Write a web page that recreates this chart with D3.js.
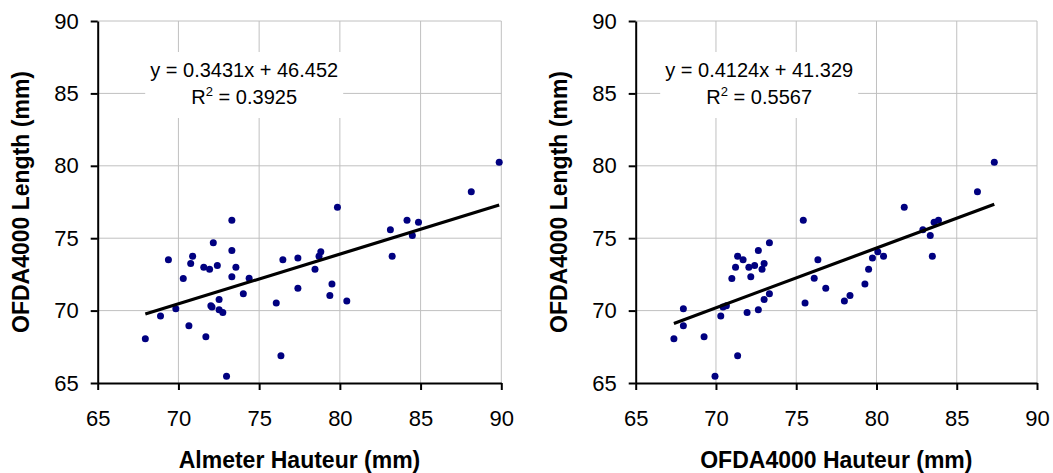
<!DOCTYPE html>
<html>
<head>
<meta charset="utf-8">
<script src="https://cdn.jsdelivr.net/npm/d3@7"></script>
<style>
  html, body { margin: 0; padding: 0; background: #fff; }
  svg text { font-family: "Liberation Sans", Arial, sans-serif; fill: #000; }
</style>
</head>
<body>
<svg id="chart" width="1053" height="473"></svg>
<script>
// left panel: Almeter hauteur vs OFDA4000 length
var almeterX = [67.95, 68.89, 69.38, 69.84, 70.30, 70.65, 70.76, 70.88, 71.57, 71.70, 71.93,
  72.01, 72.08, 72.16, 72.41, 72.52, 72.52, 72.75, 72.98, 73.31, 73.31, 73.56, 74.02, 74.38,
  76.06, 76.35, 76.47, 77.40, 77.40, 78.46, 78.71, 78.82, 79.38, 79.51, 80.43, 83.24, 84.49,
  83.13, 84.16, 84.87, 88.14, 89.87, 79.85, 73.31];
var almeterY = [68.06, 69.62, 73.51, 70.13, 72.22, 68.95, 73.25, 73.76, 73.00, 68.20, 72.86,
  70.33, 70.24, 74.68, 73.11, 70.77, 70.06, 69.87, 65.46, 74.15, 72.33, 73.00, 71.16, 72.24,
  70.52, 66.89, 73.51, 73.64, 71.55, 72.86, 73.76, 74.06, 71.05, 71.83, 70.66, 73.76, 75.18,
  75.59, 76.24, 76.10, 78.20, 80.25, 77.14, 76.24];

// right panel: OFDA4000 hauteur vs OFDA4000 length
var ofdaX = [67.38, 67.97, 67.97, 69.26, 69.94, 70.30, 70.44, 70.65, 70.99, 71.22, 71.35,
  71.35, 71.69, 71.94, 72.05, 72.17, 72.41, 72.64, 72.64, 72.87, 73.00, 73.00, 73.33, 73.33,
  75.55, 76.12, 76.35, 76.84, 78.00, 78.35, 79.28, 79.51, 79.75, 80.08, 80.44, 83.35, 83.48,
  75.44, 81.73, 82.89, 83.59, 83.86, 86.29, 87.34];
var ofdaY = [68.06, 70.13, 68.95, 68.20, 65.46, 69.62, 70.24, 70.33, 72.22, 73.00, 73.76,
  66.89, 73.51, 69.87, 73.00, 72.33, 73.11, 74.15, 70.06, 72.86, 73.25, 70.77, 71.16, 74.68,
  70.52, 72.24, 73.51, 71.55, 70.66, 71.05, 71.83, 72.86, 73.64, 74.06, 73.76, 75.18, 73.76,
  76.24, 77.14, 75.59, 76.10, 76.24, 78.20, 80.25];

var ticks = [65, 70, 75, 80, 85, 90];
var yTitle = 'OFDA4000 Length (mm)';

var svg = d3.select('#chart');

function drawPanel(opts) {
  var x = d3.scaleLinear().domain([65, 90]).range([opts.left, opts.right]);
  var y = d3.scaleLinear().domain([65, 90]).range([383, 21]);
  var g = svg.append('g');

  // grid
  g.selectAll('.vgrid').data(ticks.slice(1)).enter().append('line')
    .attr('x1', function(d) { return x(d); }).attr('x2', function(d) { return x(d); })
    .attr('y1', y(65)).attr('y2', y(90))
    .attr('stroke', '#c0c0c0').attr('stroke-width', 1);
  g.selectAll('.hgrid').data(ticks.slice(1)).enter().append('line')
    .attr('x1', x(65)).attr('x2', x(90))
    .attr('y1', function(d) { return y(d); }).attr('y2', function(d) { return y(d); })
    .attr('stroke', '#c0c0c0').attr('stroke-width', 1);

  // white box behind the equation
  var bx = opts.left + opts.boxOffset;
  g.append('rect').attr('x', bx).attr('y', 52).attr('width', 198).attr('height', 66).attr('fill', '#fff');

  // axes
  var xAxis = g.append('g').attr('transform', 'translate(0,' + y(65) + ')')
    .call(d3.axisBottom(x).tickValues(ticks).tickSize(7).tickSizeOuter(0).tickPadding(20));
  var yAxis = g.append('g').attr('transform', 'translate(' + x(65) + ',0)')
    .call(d3.axisLeft(y).tickValues(ticks).tickSize(7).tickSizeOuter(0).tickPadding(12));
  [xAxis, yAxis].forEach(function(a) {
    a.selectAll('path, line').attr('stroke', '#000').attr('stroke-width', 2);
    a.selectAll('text').attr('font-size', 22).style('font-family', '"Liberation Sans", Arial, sans-serif');
  });

  // points
  var pts = d3.zip(opts.xs, opts.ys);
  g.selectAll('circle').data(pts).enter().append('circle')
    .attr('cx', function(d) { return x(d[0]); })
    .attr('cy', function(d) { return y(d[1]); })
    .attr('r', 3.5).attr('fill', '#000080');

  // trendline
  var ext = d3.extent(opts.xs);
  g.append('line')
    .attr('x1', x(ext[0])).attr('y1', y(opts.slope * ext[0] + opts.intercept))
    .attr('x2', x(ext[1])).attr('y2', y(opts.slope * ext[1] + opts.intercept))
    .attr('stroke', '#000').attr('stroke-width', 3.2);

  // equation
  var cx = bx + 99;
  g.append('text').attr('x', cx).attr('y', 77).attr('text-anchor', 'middle').attr('font-size', 20)
    .text('y = ' + opts.slope + 'x + ' + opts.intercept);
  var r2 = g.append('text').attr('x', cx).attr('y', 104).attr('text-anchor', 'middle').attr('font-size', 20);
  r2.append('tspan').text('R');
  r2.append('tspan').attr('font-size', 13).attr('dy', -8).text('2');
  r2.append('tspan').attr('dy', 8).text(' = ' + opts.r2);

  // titles
  g.append('text').attr('x', (opts.left + opts.right) / 2).attr('y', 468)
    .attr('text-anchor', 'middle').attr('font-size', 23).attr('font-weight', 'bold')
    .text(opts.xTitle);
  g.append('text').attr('transform', 'translate(' + (opts.left - 77) + ',202) rotate(-90)')
    .attr('text-anchor', 'middle').attr('font-size', 23).attr('font-weight', 'bold')
    .attr('dy', '0.35em').text(yTitle);
}

drawPanel({ left: 97.7, right: 501.3, xs: almeterX, ys: almeterY, slope: 0.3431, intercept: 46.452,
  r2: '0.3925', boxOffset: 47.5, xTitle: 'Almeter Hauteur (mm)' });
drawPanel({ left: 635.7, right: 1037, xs: ofdaX, ys: ofdaY, slope: 0.4124, intercept: 41.329,
  r2: '0.5567', boxOffset: 24.5, xTitle: 'OFDA4000 Hauteur (mm)' });
</script>
</body>
</html>
